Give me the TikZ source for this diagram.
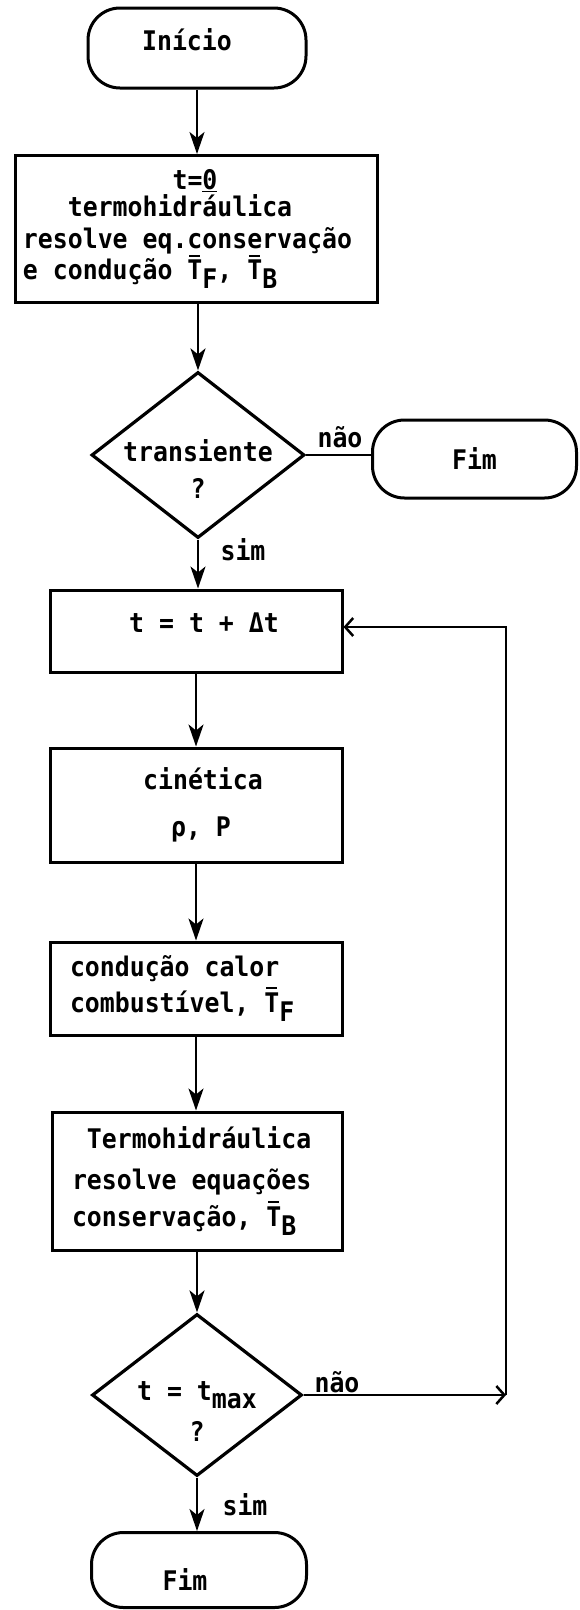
\documentclass[tikz,border=0pt]{standalone}
\usepackage{fontspec}
\newfontfamily\tw[FakeStretch=0.92]{DejaVu Sans Mono}
\usetikzlibrary{shapes.geometric,arrows.meta}
\newcommand\myfont{\tw\bfseries\fontsize{27}{31.5}\selectfont}
\newcommand\fixsp{\spaceskip 0.5538em\xspaceskip 0.5538em\relax}
\newcommand\Tbar{\rlap{\hspace{0.06em}\rule[0.86em]{0.42em}{0.08em}}T}
\newcommand\lo[1]{\raisebox{-0.32em}{#1}}
\newcommand\dtext[2]{\raisebox{#1}[0pt][0pt]{\makebox[0pt]{\begin{tabular}[t]{@{}c@{}}#2\end{tabular}}}}
\newcommand\otext[2]{\raisebox{#1}[0pt][0pt]{#2}}
\begin{document}
\begin{tikzpicture}[x=1pt,y=-1pt,
  every node/.style={font=\myfont, inner sep=0pt},
  term/.style={draw, line width=3pt, rectangle, rounded corners=32pt},
  proc/.style={draw, line width=3pt, rectangle},
  dec/.style={draw, line width=3.2pt, diamond, aspect=1},
  flow/.style={line width=2.5pt, -{Stealth[length=22pt,width=15pt,inset=6pt]}},
  back/.style={line width=2.5pt, -{Straight Barb[length=8pt,width=18pt]}},
  plain/.style={line width=2.5pt},
  lbl/.style={anchor=base}
]
\useasboundingbox (0,0) rectangle (579,1610);

\node[term, minimum width=218pt, minimum height=80pt] (start) at (197,48)
  {\otext{-2pt}{Início\hspace{20pt}}};

\node[proc, minimum width=362pt, minimum height=147pt, text width=346pt, align=left] (b1) at (196,229)
  {\fixsp\phantom{0000000000}t=\underline{0}\\[-4pt]
   \phantom{000}termohidráulica\\
   resolve eq.conservação\\
   e condução \Tbar\lo{F}, \Tbar\lo{B}};

\node[dec, minimum width=213pt, minimum height=166pt] (d1) at (198,455)
  {\dtext{-6pt}{transiente\\[6pt]?}};

\node[term, minimum width=204pt, minimum height=78pt] (fim1) at (474.5,459) {Fim};

\node[proc, minimum width=292pt, minimum height=82pt] (b2) at (196,631)
  {\otext{-1.5pt}{\hspace{16pt}t = t + Δt}};

\node[proc, minimum width=292pt, minimum height=114pt, align=center] (b3) at (196,805)
  {\fixsp\hspace{14pt}cinética\\[15pt]\hspace{10pt}ρ, P};

\node[proc, minimum width=292pt, minimum height=93pt, text width=252pt, align=left] (b4) at (196,988.5)
  {\fixsp condução calor\\[4.5pt]
   combustível, \Tbar\lo{F}};

\node[proc, minimum width=290pt, minimum height=138pt, text width=250pt, align=left] (b5) at (197,1181)
  {\fixsp\phantom{0}Termohidráulica\\[9pt]
   resolve equações\\[6pt]
   conservação, \Tbar\lo{B}};

\node[dec, minimum width=210pt, minimum height=162pt] (d2) at (197,1395)
  {\dtext{-5pt}{t = t\lo{max}\\[10pt]?}};

\node[term, minimum width=215pt, minimum height=75pt] (fim2) at (199,1570)
  {\otext{-20pt}{Fim\hspace{28pt}}};

\coordinate (c1) at (506,1395);
\coordinate (c2) at (506,627);

\node[lbl] (nao1) at (340,447) {não};
\node[lbl] (sim1) at (243,560) {sim};
\node[lbl] (nao2) at (337,1392) {não};
\node[lbl] (sim2) at (245,1515) {sim};

\draw[flow] (start.south) -- (start.south |- b1.north);
\draw[flow] (b1.south -| d1.north) -- (d1.north);
\draw[plain] (d1.east) -- (d1.east -| fim1.west);
\draw[flow] (d1.south) -- (d1.south |- b2.north);
\draw[flow] (b2.south) -- (b3.north);
\draw[flow] (b3.south) -- (b4.north);
\draw[flow] (b4.south) -- (b4.south |- b5.north);
\draw[flow] (b5.south) -- (d2.north);
\draw[flow] (d2.south) -- (d2.south |- fim2.north);
\draw[back] (d2.east) -- (c1);
\draw[back] (c1) -- (c2) -- (c2 -| b2.east);
\end{tikzpicture}
\end{document}
